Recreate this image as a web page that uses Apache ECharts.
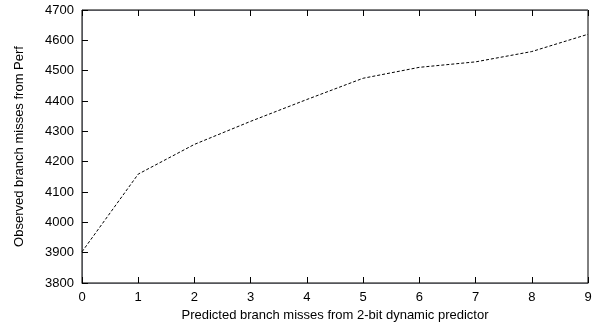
<!DOCTYPE html>
<html><head><meta charset="utf-8">
<script src="https://cdn.jsdelivr.net/npm/echarts@6/dist/echarts.min.js"></script>
<style>html,body{margin:0;padding:0;background:#fff}#c{width:597px;height:330px}</style>
</head><body><div id="c"></div>
<script>
const xValues = [0, 1, 2, 3, 4, 5, 6, 7, 8, 9];
const yValues = [3903, 4159, 4257, 4333, 4405, 4475, 4511, 4529, 4563, 4620];
const xTitle = 'Predicted branch misses from 2-bit dynamic predictor';
const yTitle = 'Observed branch misses from Perf';

const font = 'Liberation Sans';
const chart = echarts.init(document.getElementById('c'));
chart.setOption({
  animation: false,
  grid: {left: 82, right: 9, top: 10, bottom: 47, show: true, borderColor: '#000', borderWidth: 1},
  xAxis: [{
    type: 'value', min: 0, max: 9, interval: 1, position: 'bottom',
    name: xTitle, nameLocation: 'middle', nameGap: 25,
    nameTextStyle: {fontFamily: font, fontSize: 13, color: '#000'},
    axisLine: {show: true, onZero: false},
    axisTick: {show: true, inside: true, length: 6, lineStyle: {color: 'rgb(0,0,0)', width: 1}},
    axisLabel: {fontFamily: font, fontSize: 13, color: '#000', margin: 8},
    splitLine: {show: false}
  }, {
    type: 'value', min: 0, max: 9, interval: 1, position: 'top',
    axisLine: {show: true, onZero: false},
    axisTick: {show: true, inside: true, length: 6, lineStyle: {color: 'rgb(0,0,0)', width: 1}},
    axisLabel: {show: false}, splitLine: {show: false}
  }],
  yAxis: [{
    type: 'value', min: 3800, max: 4700, interval: 100, position: 'left',
    name: yTitle, nameLocation: 'middle', nameGap: 56, nameRotate: 90,
    nameTextStyle: {fontFamily: font, fontSize: 13, color: '#000'},
    axisLine: {show: true, onZero: false},
    axisTick: {show: true, inside: true, length: 6, lineStyle: {color: 'rgb(0,0,0)', width: 1}},
    axisLabel: {fontFamily: font, fontSize: 13, color: '#000', margin: 8, formatter: v => String(v)},
    splitLine: {show: false}
  }],
  series: [{
    type: 'line',
    data: xValues.map((x, i) => [x, yValues[i]]),
    showSymbol: false,
    lineStyle: {color: '#000', width: 1, type: [3, 2]}
  }]
});
</script></body></html>
